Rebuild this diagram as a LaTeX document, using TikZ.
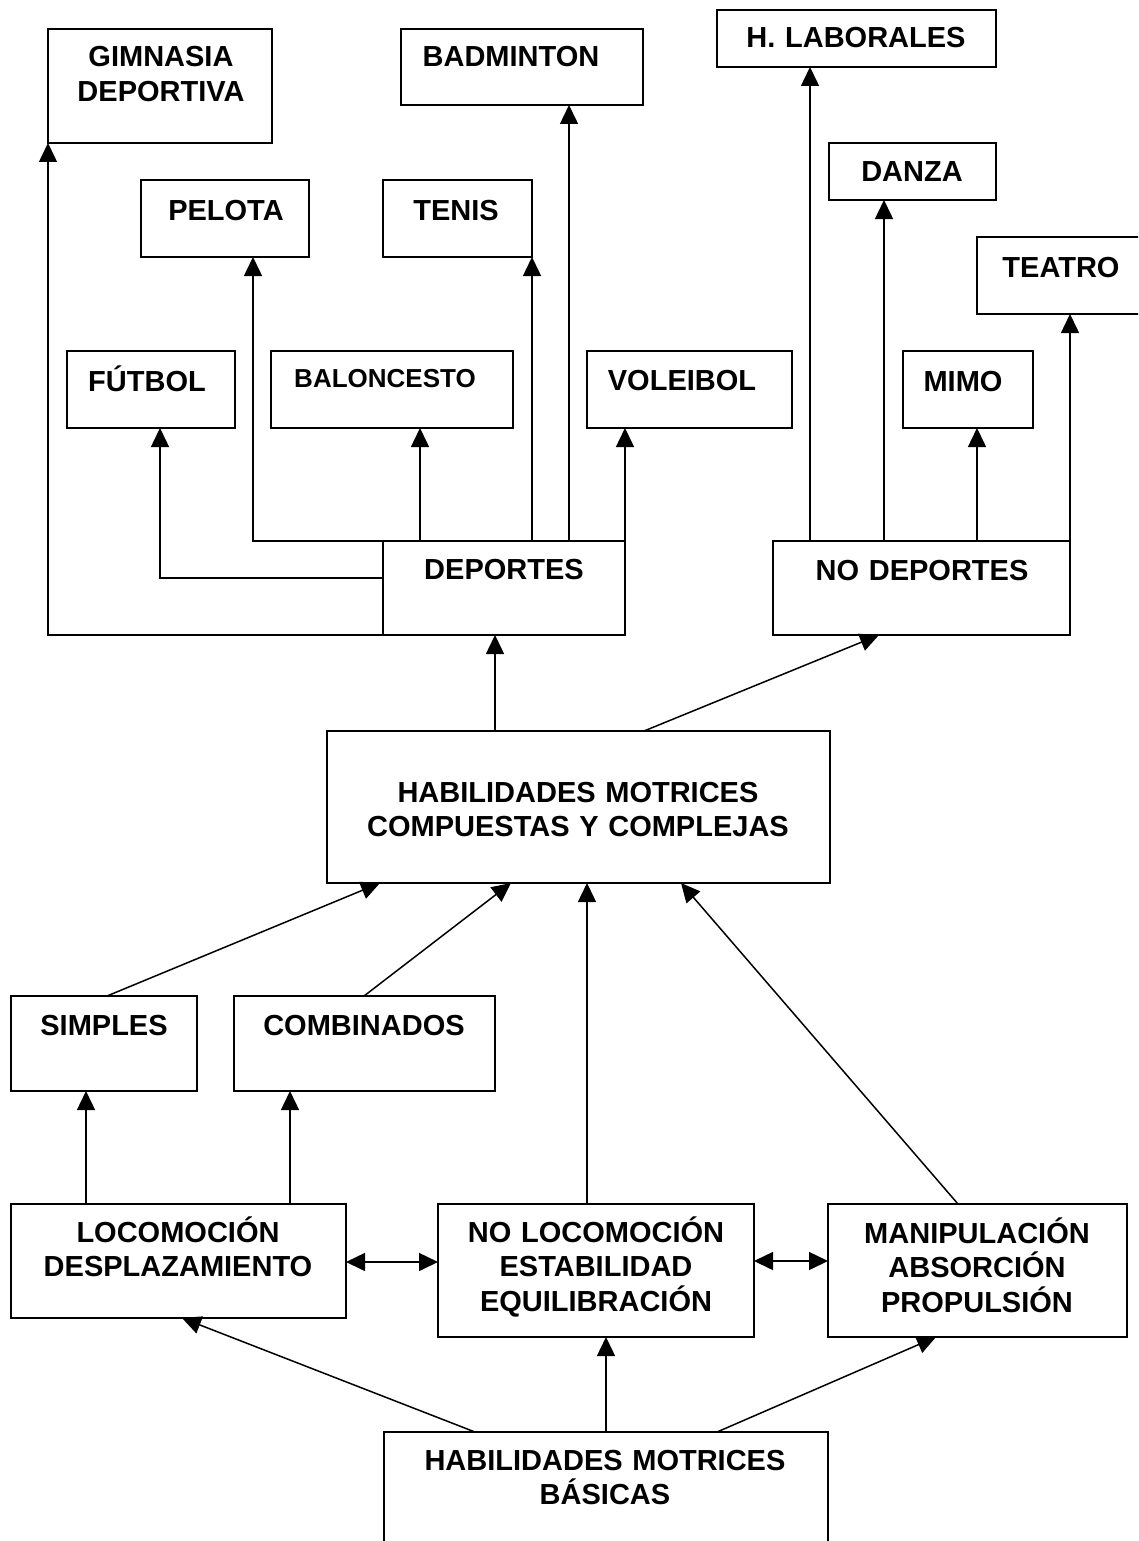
\documentclass[tikz,border=0pt]{standalone}
\usepackage{fontspec}
\setmainfont{Liberation Sans}
\usetikzlibrary{arrows.meta,fit}
\begin{document}
\begin{tikzpicture}[x=1pt,y=-1pt,
  box/.style={draw,line width=1.5pt,inner sep=0pt,outer sep=0pt},
  lbl/.style={anchor=base,inner sep=0pt,text width=500pt,align=center,
    font=\bfseries\fontsize{29}{34.5}\selectfont},
  lblsmall/.style={lbl,font=\bfseries\fontsize{26}{31}\selectfont},
  arr/.style={line width=1.5pt,-{Triangle[length=19pt,width=18pt]}},
  darr/.style={line width=1.5pt,{Triangle[length=19pt,width=18pt]}-{Triangle[length=19pt,width=18pt]}}]
\useasboundingbox (0,0) rectangle (1138,1541);
\fill[white] (0,0) rectangle (1138,1541);
\clip (0,0) rectangle (1138,1541);

% boxes
\node[box,fit={(48,29)(272,143)}] (gim) {};
\node[box,fit={(401,29)(643,105)}] (bad) {};
\node[box,fit={(717,10)(996,67)}] (hlab) {};
\node[box,fit={(141,180)(309,257)}] (pel) {};
\node[box,fit={(383,180)(532,257)}] (ten) {};
\node[box,fit={(829,143)(996,200)}] (dan) {};
\node[box,fit={(977,237)(1150,314)}] (tea) {};
\node[box,fit={(67,351)(235,428)}] (fut) {};
\node[box,fit={(271,351)(513,428)}] (bal) {};
\node[box,fit={(587,351)(792,428)}] (vol) {};
\node[box,fit={(903,351)(1033,428)}] (mimo) {};
\node[box,fit={(383,541)(625,635)}] (dep) {};
\node[box,fit={(773,541)(1070,635)}] (nodep) {};
\node[box,fit={(327,731)(830,883)}] (hmcc) {};
\node[box,fit={(11,996)(197,1091)}] (sim) {};
\node[box,fit={(234,996)(495,1091)}] (comb) {};
\node[box,fit={(11,1204)(346,1318)}] (loco) {};
\node[box,fit={(438,1204)(754,1337)}] (noloco) {};
\node[box,fit={(828,1204)(1127,1337)}] (manip) {};
\node[box,fit={(384,1432)(828,1560)}] (hmb) {};

% labels
\node[lbl] (gim-t) at (161,67) {GIMNASIA\\DEPORTIVA};
\node[lbl] (bad-t) at (511,67) {BADMINTON};
\node[lbl] (hlab-t) at (856,48) {H. LABORALES};
\node[lbl] (pel-t) at (226,220) {PELOTA};
\node[lbl] (ten-t) at (456,220) {TENIS};
\node[lbl] (dan-t) at (912,182) {DANZA};
\node[lbl] (tea-t) at (1061,277) {TEATRO};
\node[lbl] (fut-t) at (147,391) {FÚTBOL};
\node[lblsmall] (bal-t) at (385,387) {BALONCESTO};
\node[lbl] (vol-t) at (682,390) {VOLEIBOL};
\node[lbl] (mimo-t) at (963,391) {MIMO};
\node[lbl] (dep-t) at (504,579) {DEPORTES};
\node[lbl] (nodep-t) at (922,580) {NO DEPORTES};
\node[lbl] (hmcc-t) at (578,802) {HABILIDADES MOTRICES\\COMPUESTAS Y COMPLEJAS};
\node[lbl] (sim-t) at (104,1035) {SIMPLES};
\node[lbl] (comb-t) at (364,1035) {COMBINADOS};
\node[lbl] (loco-t) at (178,1242) {LOCOMOCIÓN\\DESPLAZAMIENTO};
\node[lbl] (noloco-t) at (596,1242) {NO LOCOMOCIÓN\\ESTABILIDAD\\EQUILIBRACIÓN};
\node[lbl] (manip-t) at (977,1243) {MANIPULACIÓN\\ABSORCIÓN\\PROPULSIÓN};
\node[lbl] (hmb-t) at (605,1470) {HABILIDADES MOTRICES\\BÁSICAS};

% DEPORTES connectors
\draw[arr] ([xshift=37pt]dep.south west) -| (gim.south west);
\draw[arr] ([yshift=10pt]dep.west) -| ([xshift=9pt]fut.south);
\draw[arr] (dep.north west) -| ([xshift=28pt]pel.south);
\draw[arr] ([xshift=37pt]dep.north west) -- ([xshift=149pt]bal.south west);
\draw[arr] (dep.north -| ten.south east) -- (ten.south east);
\draw[arr] ([xshift=186pt]dep.north west) -- ([xshift=168pt]bad.south west);
\draw[arr] (dep.north east) -- (dep.north east |- vol.south);

% NO DEPORTES connectors
\draw[arr] ([xshift=37pt]nodep.north west) -- ([xshift=93pt]hlab.south west);
\draw[arr] ([xshift=111pt]nodep.north west) -- ([xshift=55pt]dan.south west);
\draw[arr] ([xshift=204pt]nodep.north west) -- ([xshift=74pt]mimo.south west);
\draw[arr] (nodep.north east) -- (nodep.north east |- tea.south);

% HMCC connectors
\draw[arr] ([xshift=168pt]hmcc.north west) -- ([xshift=112pt]dep.south west);
\draw[arr] ([xshift=317pt]hmcc.north west) -- ([xshift=106pt]nodep.south west);
\draw[arr] ([xshift=96pt]sim.north west) -- ([xshift=53pt]hmcc.south west);
\draw[arr] ([xshift=130pt]comb.north west) -- ([xshift=184pt]hmcc.south west);
\draw[arr] ([xshift=149pt]noloco.north west) -- ([xshift=260pt]hmcc.south west);
\draw[arr] ([xshift=130pt]manip.north west) -- ([xshift=354pt]hmcc.south west);

% lower connectors
\draw[arr] ([xshift=75pt]loco.north west) -- ([xshift=75pt]sim.south west);
\draw[arr] ([xshift=279pt]loco.north west) -- ([xshift=56pt]comb.south west);
\draw[darr] ([yshift=-58pt]loco.north east) -- ([yshift=-58pt]noloco.north west);
\draw[darr] ([yshift=-57pt]noloco.north east) -- ([yshift=-57pt]manip.north west);
\draw[arr] ([xshift=91pt]hmb.north west) -- ([xshift=171pt]loco.south west);
\draw[arr] ([xshift=222pt]hmb.north west) -- ([xshift=168pt]noloco.south west);
\draw[arr] ([xshift=333pt]hmb.north west) -- ([xshift=108pt]manip.south west);
\end{tikzpicture}
\end{document}
